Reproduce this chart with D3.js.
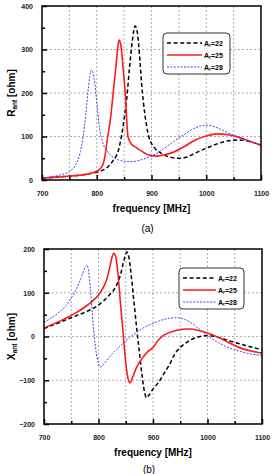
<!DOCTYPE html>
<html>
<head>
<meta charset="utf-8">
<script src="https://cdn.jsdelivr.net/npm/d3@7"></script>
<style>
  body { margin: 0; background: #fff; }
  svg { display: block; font-family: Arial, "Liberation Sans", sans-serif; }
</style>
</head>
<body>
<div id="chart"></div>
<script>
let width = 274, height = 474;

// legend labels (subscript r)
let seriesNames = ["22", "25", "28"];

// Resistance R_ant [ohm], frequency [MHz]
let rFreq22 = [700,720,740,760,780,800,820,830,840,845,850,855,860,865,870,874,878,882,888,895,905,920,935,950,965,980,1000,1020,1040,1060,1080,1100];
let rVal22  = [4,6,8,10,13,18,30,45,70,100,140,190,260,320,354,340,290,220,150,100,75,60,52,50,53,62,73,83,90,92,88,80];
let rFreq25 = [700,720,740,760,780,790,800,810,815,820,825,830,835,839,841,844,848,852,857,862,870,880,890,900,910,920,940,960,980,1000,1020,1040,1060,1080,1100];
let rVal25  = [4,6,8,10,13,16,20,32,55,100,140,200,260,310,322,310,260,200,100,85,76,68,60,56,55,57,64,77,92,101,106,104,98,89,80];
let rFreq28 = [700,720,740,750,760,770,775,780,785,790,795,800,805,810,820,830,840,850,860,870,880,900,920,940,960,980,1000,1020,1040,1060,1080,1100];
let rVal28  = [5,8,14,19,32,65,100,150,215,253,235,180,120,90,65,52,46,43,42,43,46,55,70,88,105,120,126,120,108,98,89,80];

// Reactance X_ant [ohm]
let xFreq22 = [700,720,740,760,780,800,820,830,840,848,852,856,860,865,870,875,880,885,888,892,900,910,920,930,940,950,960,970,980,990,1000,1020,1040,1060,1080,1100];
let xVal22  = [18,28,38,48,58,72,95,110,140,180,193,180,140,80,20,-35,-90,-130,-140,-135,-120,-105,-85,-65,-40,-25,-15,-7,-2,1,2,-2,-10,-17,-24,-30];
let xFreq25 = [700,720,740,760,780,790,800,810,815,820,825,828,832,836,840,845,850,855,858,862,870,880,890,900,910,920,940,960,970,980,1000,1020,1040,1060,1080,1100];
let xVal25  = [20,30,42,55,72,82,95,115,130,155,182,190,180,140,80,10,-60,-100,-106,-95,-70,-50,-35,-25,-8,3,13,17,17,15,8,-2,-15,-26,-33,-38];
let xFreq28 = [700,710,720,730,740,750,760,770,775,778,781,785,790,795,800,803,808,815,825,835,845,855,865,880,900,920,940,950,960,980,1000,1020,1040,1060,1080,1100];
let xVal28  = [32,40,48,58,70,88,110,140,158,163,155,110,30,-30,-62,-70,-66,-55,-40,-28,-15,-5,5,18,30,39,43,42,38,22,2,-14,-26,-34,-40,-43];

let xTicks = [700, 800, 900, 1000, 1100];
let rTicks = [0, 100, 200, 300, 400];
let xxTicks = [-200, -100, 0, 100, 200];

let styles = [
  {color: "#000", width: 1.5, dash: "4,2.6"},
  {color: "#ff1a1a", width: 1.6, dash: null},
  {color: "#4646e6", width: 1, dash: "2,1.4"}
];

let svg = d3.select("#chart").append("svg")
  .attr("width", width)
  .attr("height", height);

function panel(cfg) {
  let x = d3.scaleLinear().domain([700, 1100]).range([cfg.left, cfg.right]);
  let y = d3.scaleLinear().domain(cfg.yDomain).range([cfg.bottom, cfg.top]);
  let g = svg.append("g");

  // grid
  let gx = d3.range(750, 1100, 50);
  g.selectAll(".gv").data(gx).enter().append("line")
    .attr("x1", d => x(d)).attr("x2", d => x(d))
    .attr("y1", cfg.top).attr("y2", cfg.bottom)
    .attr("stroke", "#888").attr("stroke-width", 0.7).attr("stroke-dasharray", "2,2");
  let gy = cfg.yTicks.slice(1, -1);
  g.selectAll(".gh").data(gy).enter().append("line")
    .attr("x1", cfg.left).attr("x2", cfg.right)
    .attr("y1", d => y(d)).attr("y2", d => y(d))
    .attr("stroke", "#888").attr("stroke-width", 0.7).attr("stroke-dasharray", "2,2");

  // curves
  let line = d3.line().curve(d3.curveMonotoneX).x(d => x(d[0])).y(d => y(d[1]));
  let clipId = "clip" + cfg.id;
  svg.append("clipPath").attr("id", clipId).append("rect")
    .attr("x", cfg.left).attr("y", cfg.top)
    .attr("width", cfg.right - cfg.left).attr("height", cfg.bottom - cfg.top);
  cfg.series.forEach((s, i) => {
    let pts = s[0].map((f, k) => [f, s[1][k]]);
    g.append("path")
      .attr("d", line(pts))
      .attr("clip-path", "url(#" + clipId + ")")
      .attr("fill", "none")
      .attr("stroke", styles[i].color)
      .attr("stroke-width", styles[i].width)
      .attr("stroke-dasharray", styles[i].dash);
  });

  // frame
  g.append("rect")
    .attr("x", cfg.left).attr("y", cfg.top)
    .attr("width", cfg.right - cfg.left).attr("height", cfg.bottom - cfg.top)
    .attr("fill", "none").attr("stroke", "#000").attr("stroke-width", 1.5);

  // axes with inward ticks
  let xAxis = d3.axisBottom(x).tickValues(xTicks).tickFormat(d3.format("d"))
    .tickSizeInner(-5).tickSizeOuter(0).tickPadding(11);
  g.append("g").attr("transform", "translate(0," + cfg.bottom + ")").call(xAxis);
  let xMinor = d3.axisBottom(x).tickValues(d3.range(750, 1100, 100)).tickSizeInner(-3).tickSizeOuter(0).tickFormat("");
  g.append("g").attr("transform", "translate(0," + cfg.bottom + ")").call(xMinor);

  let yAxis = d3.axisLeft(y).tickValues(cfg.yTicks).tickFormat(d3.format("d"))
    .tickSizeInner(-5).tickSizeOuter(0).tickPadding(9);
  g.append("g").attr("transform", "translate(" + cfg.left + ",0)").call(yAxis);
  let yMinor = d3.axisLeft(y).tickValues(cfg.yTicks.slice(0, -1).map(d => d + 50)).tickSizeInner(-3).tickSizeOuter(0).tickFormat("");
  g.append("g").attr("transform", "translate(" + cfg.left + ",0)").call(yMinor);

  g.selectAll(".domain").remove();
  g.selectAll(".tick line").attr("stroke", "#000").attr("stroke-width", 1.5);
  g.selectAll(".tick text")
    .attr("font-size", 7).attr("font-weight", "bold")
    .attr("font-family", "Arial, 'Liberation Sans', sans-serif").attr("fill", "#222");

  // axis titles
  g.append("text")
    .attr("x", (cfg.left + cfg.right) / 2).attr("y", cfg.bottom + 32)
    .attr("text-anchor", "middle").attr("font-size", 10).attr("font-weight", "bold")
    .text("frequency [MHz]");
  let yt = g.append("text")
    .attr("transform", "translate(15," + ((cfg.top + cfg.bottom) / 2) + ") rotate(-90)")
    .attr("text-anchor", "middle").attr("font-size", 10).attr("font-weight", "bold");
  yt.append("tspan").text(cfg.yLetter);
  yt.append("tspan").attr("font-size", 6.5).attr("dy", 2).text("ant");
  yt.append("tspan").attr("dy", -2).text(" [ohm]");

  g.append("text")
    .attr("x", (cfg.left + cfg.right) / 2 - 4).attr("y", cfg.bottom + cfg.capDy)
    .attr("text-anchor", "middle").attr("font-size", 10)
    .text(cfg.caption);

  // legend
  let lg = g.append("g").attr("transform", "translate(" + cfg.legX + "," + cfg.legY + ")");
  lg.append("rect").attr("width", cfg.legW).attr("height", 41).attr("rx", 4)
    .attr("fill", "#fff").attr("stroke", "#333").attr("stroke-width", 1);
  seriesNames.forEach((n, i) => {
    let yy = 10 + i * 12;
    lg.append("line").attr("x1", 4).attr("x2", cfg.legW - 28).attr("y1", yy).attr("y2", yy)
      .attr("stroke", styles[i].color).attr("stroke-width", styles[i].width)
      .attr("stroke-dasharray", styles[i].dash);
    let t = lg.append("text").attr("x", cfg.legW - 26).attr("y", yy + 2.5)
      .attr("font-size", 7).attr("font-weight", "bold");
    t.append("tspan").text("A");
    t.append("tspan").attr("font-size", 5).attr("dy", 1.5).text("r");
    t.append("tspan").attr("dy", -1.5).text("=" + n);
  });
}

panel({
  id: "a", left: 42, right: 261, top: 6, bottom: 180,
  yDomain: [0, 400], yTicks: rTicks, yLetter: "R", caption: "(a)", capDy: 52,
  legX: 163, legY: 33, legW: 67,
  series: [[rFreq22, rVal22], [rFreq25, rVal25], [rFreq28, rVal28]]
});

panel({
  id: "b", left: 44, right: 262, top: 249, bottom: 424,
  yDomain: [-200, 200], yTicks: xxTicks, yLetter: "X", caption: "(b)", capDy: 49,
  legX: 179, legY: 268, legW: 65,
  series: [[xFreq22, xVal22], [xFreq25, xVal25], [xFreq28, xVal28]]
});
</script>
</body>
</html>
